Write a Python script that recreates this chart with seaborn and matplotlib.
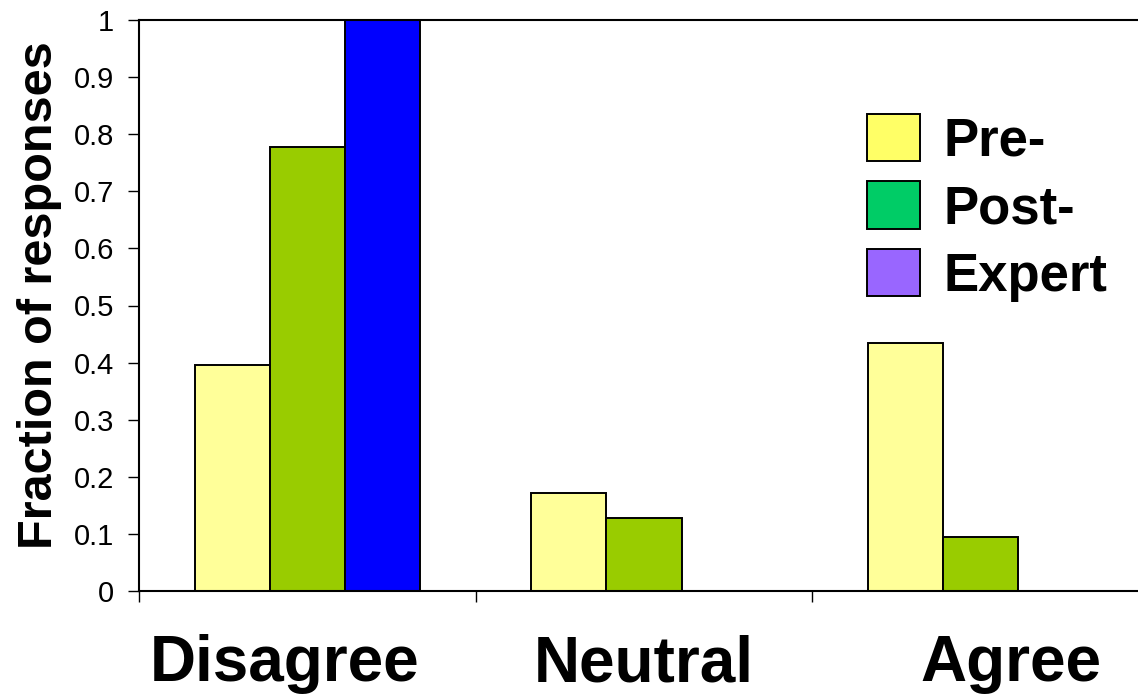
import pandas as pd
import numpy as np
from matplotlib import pyplot as plt
from matplotlib.patches import Patch
from matplotlib.transforms import ScaledTranslation
import seaborn as sns

# data
categories = ["Disagree", "Neutral", "Agree"]
groups = ["Pre-", "Post-", "Expert"]
pre = [0.396, 0.172, 0.434]
post = [0.778, 0.128, 0.095]
expert = [1.0, 0.0, 0.0]
ytick_vals = [0, 0.1, 0.2, 0.3, 0.4, 0.5, 0.6, 0.7, 0.8, 0.9, 1]
ytick_labels = ["0", "0.1", "0.2", "0.3", "0.4", "0.5", "0.6", "0.7", "0.8", "0.9", "1"]

df = pd.DataFrame({
    "category": categories * 3,
    "group": [groups[0]] * 3 + [groups[1]] * 3 + [groups[2]] * 3,
    "value": pre + post + expert,
})

# bar colours and (different) legend swatch colours, as in the original
bar_colors = ["#FFFF99", "#99CC00", "#0000FF"]
legend_colors = ["#FFFF66", "#00CC66", "#9966FF"]

sns.set_style("ticks")
plt.rcParams["font.family"] = ["Liberation Sans", "DejaVu Sans"]
plt.rcParams["text.color"] = "black"
plt.rcParams["axes.labelcolor"] = "black"
plt.rcParams["xtick.color"] = "black"
plt.rcParams["ytick.color"] = "black"

fig = plt.figure(figsize=(11.38, 6.97), dpi=100)
W, H = 1138, 697
ax = fig.add_axes([139 / W, (H - 591) / H, (1149 - 139) / W, 571 / H])

sns.barplot(data=df, x="category", y="value", hue="group", order=categories,
            hue_order=groups, palette=bar_colors, width=0.669, gap=0,
            edgecolor="black", linewidth=1.4, saturation=1, legend=False, ax=ax)

ax.set_xlim(-0.5, 2.5)
ax.set_ylim(0, 1)
ax.set_yticks(ytick_vals)
ax.set_yticklabels(ytick_labels, fontsize=21)
ax.tick_params(axis="y", direction="out", length=8, width=1, pad=10)

# category labels at centres, boundary ticks as minor ticks
ax.set_xticks(range(len(categories)))
ax.set_xticklabels(categories, fontsize=46, fontweight="bold")
ax.tick_params(axis="x", which="major", length=0, pad=31)
ax.set_xticks([-0.5, 0.5, 1.5, 2.5], minor=True)
ax.tick_params(axis="x", which="minor", direction="out", length=8, width=1)

# the original labels sit a little off-centre
shifts = [-23, 0, 30]
for lab, dx in zip(ax.get_xticklabels(), shifts):
    lab.set_transform(lab.get_transform() + ScaledTranslation(dx / 100, 0, fig.dpi_scale_trans))

ax.set_xlabel("")
ax.set_ylabel("Fraction of responses", fontsize=35, fontweight="bold")
ax.yaxis.set_label_coords(-0.076, 0.518)

for side in ["left", "bottom", "top", "right"]:
    ax.spines[side].set_linewidth(1.5)
    ax.spines[side].set_color("black")

handles = [Patch(facecolor=c, edgecolor="black", linewidth=1.4) for c in legend_colors]
ax.legend(handles, groups, frameon=False, prop={"size": 38, "weight": "bold"},
          handlelength=1.0, handleheight=1.0, handletextpad=0.45,
          labelspacing=0.28, borderpad=0, borderaxespad=0,
          loc="upper left", bbox_to_anchor=(867 / W, (H - 114) / H),
          bbox_transform=fig.transFigure)

fig.savefig("out.png", dpi=100)
